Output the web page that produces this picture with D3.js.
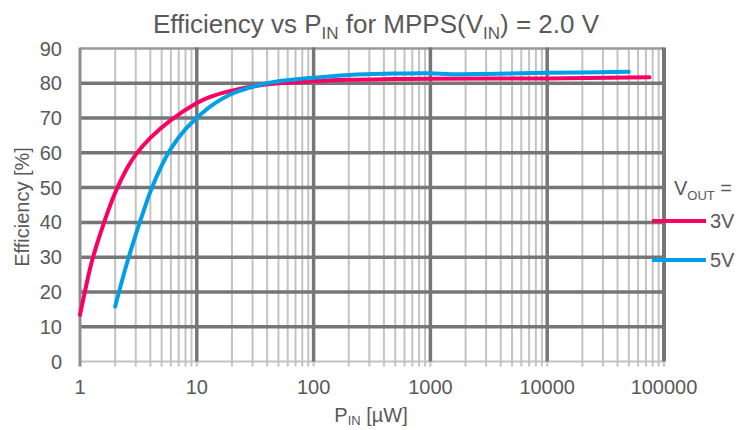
<!DOCTYPE html>
<html><head><meta charset="utf-8">
<script src="https://cdn.jsdelivr.net/npm/d3@7"></script>
<style>body{margin:0;background:#fff}svg{display:block;font-family:"Liberation Sans",Arial,sans-serif}</style>
</head><body><svg id="c" width="748" height="430"></svg>
<script>
const xTicks = [1, 10, 100, 1000, 10000, 100000];
const yTicks = [0, 10, 20, 30, 40, 50, 60, 70, 80, 90];
const series3V = [[1,13.4],[1.1,20],[1.25,28.2],[1.5,37],[2,48.5],[2.5,55.3],[3,59.5],[4,64.3],[6,69.4],[10,74.3],[13,76.1],[20,77.9],[40,79.7],[100,80.6],[200,81.0],[500,81.2],[1000,81.3],[10000,81.4],[75000,81.7]];
const series5V = [[2,15.8],[2.5,27.8],[3,36.5],[3.5,43.2],[4,48.8],[5,56.3],[6,61.2],[8,66.8],[10,70],[13,73.3],[20,77],[40,80],[100,81.6],[200,82.4],[500,82.8],[1000,82.9],[1500,82.6],[3000,82.7],[10000,83.0],[50000,83.3]];
const seriesNames = ["3V", "5V"];
const colors = ["#fa0064", "#009fe6"];

const svg = d3.select("#c");
const x = d3.scaleLog().domain([1, 100000]).range([80, 664]);
const y = d3.scaleLinear().domain([0, 90]).range([361.5, 48.5]);
const textColor = "#595959";

// minor vertical grid
const minors = [];
for (let d = 1; d < 100000; d *= 10) for (let k = 2; k <= 9; k++) minors.push(d * k);
svg.append("g").selectAll("line").data(minors).join("line")
  .attr("x1", d => x(d)).attr("x2", d => x(d))
  .attr("y1", y(90)).attr("y2", y(0) + 5)
  .attr("stroke", "#c3c3c3").attr("stroke-width", 2);
svg.append("g").selectAll("line").data(xTicks).join("line")
  .attr("x1", d => x(d)).attr("x2", d => x(d))
  .attr("y1", y(0)).attr("y2", y(0) + 5)
  .attr("stroke", "#c3c3c3").attr("stroke-width", 2);
svg.append("line").attr("x1", x(1)).attr("x2", x(100000)).attr("y1", y(0)).attr("y2", y(0))
  .attr("stroke", "#c3c3c3").attr("stroke-width", 2);
svg.append("g").selectAll("line").data(yTicks.filter(v => v > 0 && v < 90)).join("line")
  .attr("x1", x(1)).attr("x2", x(100000))
  .attr("y1", d => y(d)).attr("y2", d => y(d))
  .attr("stroke", "#767676").attr("stroke-width", 3.5);
svg.append("line").attr("x1", x(1)).attr("x2", x(100000)).attr("y1", y(90)).attr("y2", y(90))
  .attr("stroke", "#9a9a9a").attr("stroke-width", 2.5);
svg.append("g").selectAll("line").data(xTicks.slice(1)).join("line")
  .attr("x1", d => x(d)).attr("x2", d => x(d))
  .attr("y1", y(90) - 1).attr("y2", y(0))
  .attr("stroke", "#767676").attr("stroke-width", d => d === 100000 ? 4 : 3.5);
svg.append("line").attr("x1", x(1)).attr("x2", x(1)).attr("y1", y(90) - 1).attr("y2", y(0) + 5)
  .attr("stroke", "#8e8e8e").attr("stroke-width", 3);

// tick labels
svg.append("g").selectAll("text").data(yTicks).join("text")
  .attr("x", 62).attr("y", d => y(d) + 7)
  .attr("text-anchor", "end").attr("font-size", 20).attr("fill", textColor)
  .text(d => d);
svg.append("g").selectAll("text").data(xTicks).join("text")
  .attr("x", d => x(d)).attr("y", 394)
  .attr("text-anchor", "middle").attr("font-size", 20).attr("fill", textColor)
  .text(d => d);

// axis titles
svg.append("text").attr("transform", "translate(29,207) rotate(-90)")
  .attr("text-anchor", "middle").attr("font-size", 20).attr("fill", textColor)
  .text("Efficiency [%]");
const xt = svg.append("text").attr("x", 371).attr("y", 422).attr("text-anchor", "middle")
  .attr("font-size", 20).attr("fill", textColor);
xt.append("tspan").text("P");
xt.append("tspan").attr("font-size", 13).attr("dy", 3).text("IN");
xt.append("tspan").attr("dy", -3).text(" [µW]");

// title
const tt = svg.append("text").attr("x", 376).attr("y", 33).attr("text-anchor", "middle")
  .attr("font-size", 26).attr("fill", textColor);
tt.append("tspan").text("Efficiency vs P");
tt.append("tspan").attr("font-size", 17).attr("dy", 6).text("IN");
tt.append("tspan").attr("dy", -6).text(" for MPPS(V");
tt.append("tspan").attr("font-size", 17).attr("dy", 6).text("IN");
tt.append("tspan").attr("dy", -6).text(") = 2.0 V");

// curves
const line = d3.line().x(d => x(d[0])).y(d => y(d[1])).curve(d3.curveCatmullRom.alpha(0.5));
[series3V, series5V].forEach((s, i) => {
  svg.append("path").attr("d", line(s)).attr("fill", "none")
    .attr("stroke", colors[i]).attr("stroke-width", 4).attr("stroke-linecap", "round")
    .attr("stroke-linejoin", "round");
});

// legend
const lt = svg.append("text").attr("x", 674).attr("y", 195).attr("font-size", 20).attr("fill", textColor);
lt.append("tspan").text("V");
lt.append("tspan").attr("font-size", 13).attr("dy", 5).text("OUT");
lt.append("tspan").attr("dy", -5).text(" =");
const ly = [221, 260];
seriesNames.forEach((n, i) => {
  svg.append("line").attr("x1", 652).attr("x2", 706).attr("y1", ly[i]).attr("y2", ly[i])
    .attr("stroke", colors[i]).attr("stroke-width", 4);
  svg.append("text").attr("x", 710).attr("y", ly[i] + 7).attr("font-size", 20).attr("fill", textColor).text(n);
});
</script></body></html>
